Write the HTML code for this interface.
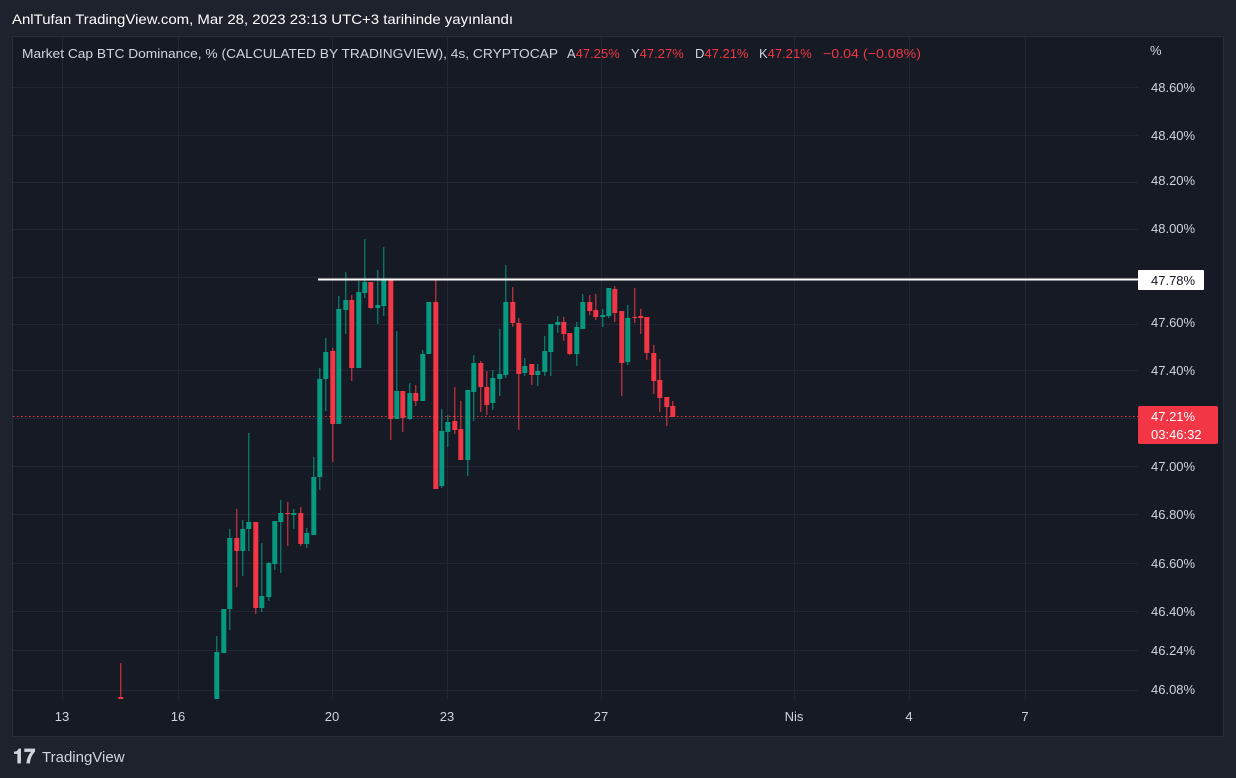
<!DOCTYPE html>
<html><head><meta charset="utf-8"><style>
body{margin:0;width:1236px;height:778px;background:#1e222d;overflow:hidden;font-family:"Liberation Sans",sans-serif}
svg{position:absolute;left:0;top:0}
</style></head><body>
<svg width="1236" height="778" xmlns="http://www.w3.org/2000/svg" font-family="Liberation Sans, sans-serif">
<rect x="0" y="0" width="1236" height="778" fill="#1e222d"/>
<rect x="12.5" y="36.5" width="1211" height="700" fill="#161a25" stroke="#2a2e39"/>
<g stroke="#232733" stroke-width="1">
<line x1="13" x2="1138" y1="87.5" y2="87.5"/><line x1="13" x2="1138" y1="135.5" y2="135.5"/>
<line x1="13" x2="1138" y1="182.5" y2="182.5"/><line x1="13" x2="1138" y1="229.5" y2="229.5"/>
<line x1="13" x2="1138" y1="277.5" y2="277.5"/><line x1="13" x2="1138" y1="324.5" y2="324.5"/>
<line x1="13" x2="1138" y1="370.5" y2="370.5"/><line x1="13" x2="1138" y1="418.5" y2="418.5"/>
<line x1="13" x2="1138" y1="466.5" y2="466.5"/><line x1="13" x2="1138" y1="514.5" y2="514.5"/>
<line x1="13" x2="1138" y1="563.5" y2="563.5"/><line x1="13" x2="1138" y1="611.5" y2="611.5"/>
<line x1="13" x2="1138" y1="650.5" y2="650.5"/><line x1="13" x2="1138" y1="690.5" y2="690.5"/>
<line y1="37" y2="699" x1="62.5" x2="62.5"/><line y1="37" y2="699" x1="178.5" x2="178.5"/>
<line y1="37" y2="699" x1="332.5" x2="332.5"/><line y1="37" y2="699" x1="447.5" x2="447.5"/>
<line y1="37" y2="699" x1="601.5" x2="601.5"/><line y1="37" y2="699" x1="794.5" x2="794.5"/>
<line y1="37" y2="699" x1="909.5" x2="909.5"/><line y1="37" y2="699" x1="1025.5" x2="1025.5"/>
</g>
<line x1="13" x2="1138" y1="416.5" y2="416.5" stroke="#f23645" stroke-dasharray="1.5,2.5"/>
<g id="c"></g>
<line x1="318" x2="1138" y1="279.5" y2="279.5" stroke="#fff" stroke-width="2"/>
<g fill="#d1d4dc" font-size="13">
<text x="1150" y="55">%</text>
<text x="1151" y="92">48.60%</text><text x="1151" y="140">48.40%</text><text x="1151" y="185">48.20%</text>
<text x="1151" y="233">48.00%</text><text x="1151" y="327">47.60%</text><text x="1151" y="375">47.40%</text>
<text x="1151" y="471">47.00%</text><text x="1151" y="519">46.80%</text><text x="1151" y="568">46.60%</text>
<text x="1151" y="616">46.40%</text><text x="1151" y="655">46.24%</text><text x="1151" y="694">46.08%</text>
<text x="62" y="721" text-anchor="middle">13</text><text x="178" y="721" text-anchor="middle">16</text>
<text x="332" y="721" text-anchor="middle">20</text><text x="447" y="721" text-anchor="middle">23</text>
<text x="601" y="721" text-anchor="middle">27</text><text x="794" y="721" text-anchor="middle">Nis</text>
<text x="909" y="721" text-anchor="middle">4</text><text x="1025" y="721" text-anchor="middle">7</text>
</g>
<rect x="1138" y="270" width="66" height="20" fill="#fff" rx="1"/>
<text x="1151" y="285" font-size="13" fill="#131722">47.78%</text>
<rect x="1138" y="406" width="80" height="38" fill="#f23645" rx="2"/>
<text x="1151" y="421" font-size="13" fill="#fff">47.21%</text>
<text x="1151" y="439" font-size="13" fill="#fff">03:46:32</text>
<text x="12" y="24" font-size="14" fill="#fff" textLength="501" lengthAdjust="spacingAndGlyphs">AnlTufan TradingView.com, Mar 28, 2023 23:13 UTC+3 tarihinde yayınlandı</text>
<text x="22" y="58" font-size="13" fill="#d1d4dc" textLength="536" lengthAdjust="spacingAndGlyphs">Market Cap BTC Dominance, % (CALCULATED BY TRADINGVIEW), 4s, CRYPTOCAP</text>
<text x="567" y="58" font-size="13" fill="#d1d4dc">A<tspan fill="#f23645">47.25%</tspan></text>
<text x="631" y="58" font-size="13" fill="#d1d4dc">Y<tspan fill="#f23645">47.27%</tspan></text>
<text x="695" y="58" font-size="13" fill="#d1d4dc">D<tspan fill="#f23645">47.21%</tspan></text>
<text x="759" y="58" font-size="13" fill="#d1d4dc">K<tspan fill="#f23645">47.21%</tspan></text>
<text x="823" y="58" font-size="13" fill="#f23645" textLength="98" lengthAdjust="spacingAndGlyphs">−0.04 (−0.08%)</text>
<text x="13" y="763" font-size="20" font-weight="bold" fill="#d1d4dc">𝟏𝟕</text>
<text x="42" y="762" font-size="15" fill="#d1d4dc">TradingView</text>
</svg>
<script>
var d=[
[120,663,699,697,699,0],
[216,636,699,652,699,1],[223,609,653,609,653,1],[229,529,630,538,609,1],[236,509,587,538,551,0],[242,520,576,529,551,1],
[248,433,551,522,529,1],[255,522,614,522,608,0],[261,543,612,596,608,1],[268,562,601,563,597,1],[274,521,570,521,564,1],
[280,500,573,513,522,1],[287,502,546,513,514,0],[293,509,529,513,515,1],[300,507,546,513,544,0],[306,528,548,533,544,1],
[313,457,535,477,535,1],[319,368,490,379,477,1],[325,338,411,352,379,1],[332,348,462,351,424,0],[338,296,424,309,424,1],
[345,272,334,300,310,1],[351,295,381,300,368,0],[358,281,368,292,368,1],[364,239,298,282,293,1],[370,282,309,282,308,0],
[377,270,324,305,308,1],[383,247,316,280,306,1],[390,280,440,280,419,0],[396,331,419,391,419,1],[402,391,432,391,418,0],
[409,383,420,393,419,1],[415,385,406,393,401,0],[422,350,401,354,401,1],[428,302,354,302,354,1],[435,279,489,302,489,0],
[441,409,488,431,486,1],[447,415,447,422,432,1],[454,387,434,421,430,0],[460,401,460,429,460,0],[467,390,476,390,460,1],
[473,355,421,363,392,1],[480,361,412,363,387,0],[486,371,415,387,405,0],[492,370,410,378,403,1],[499,329,396,374,379,1],
[505,265,378,302,375,1],[512,287,327,302,323,0],[518,318,430,323,374,0],[524,358,376,366,373,1],[531,364,385,364,375,0],
[537,364,386,371,375,1],[544,336,376,351,372,1],[550,324,376,324,352,1],[557,316,333,322,325,1],[563,317,341,322,334,0],
[569,333,355,333,354,0],[576,322,366,327,354,1],[582,294,329,302,329,1],[589,295,315,302,311,0],[595,294,320,310,317,0],
[602,309,327,315,317,1],[608,288,318,288,316,1],[614,286,322,289,313,0],[621,311,396,311,363,0],[627,305,365,318,362,1],
[634,288,323,317,318,0],[640,309,334,316,318,0],[646,317,360,317,353,0],[653,345,394,353,381,0],[659,359,412,380,398,0],
[666,397,426,397,407,0],[672,401,417,406,417,0]];
var s='';d.forEach(function(c){var col=c[5]?'#089981':'#f23645';
s+='<rect x="'+(c[0]+0.3)+'" y="'+c[1]+'" width="1" height="'+(c[2]-c[1])+'" fill="'+col+'"/>';
s+='<rect x="'+(c[0]-1.7)+'" y="'+c[3]+'" width="5" height="'+Math.max(1,c[4]-c[3])+'" fill="'+col+'"/>';});
document.getElementById('c').innerHTML=s;
</script>
</body></html>
